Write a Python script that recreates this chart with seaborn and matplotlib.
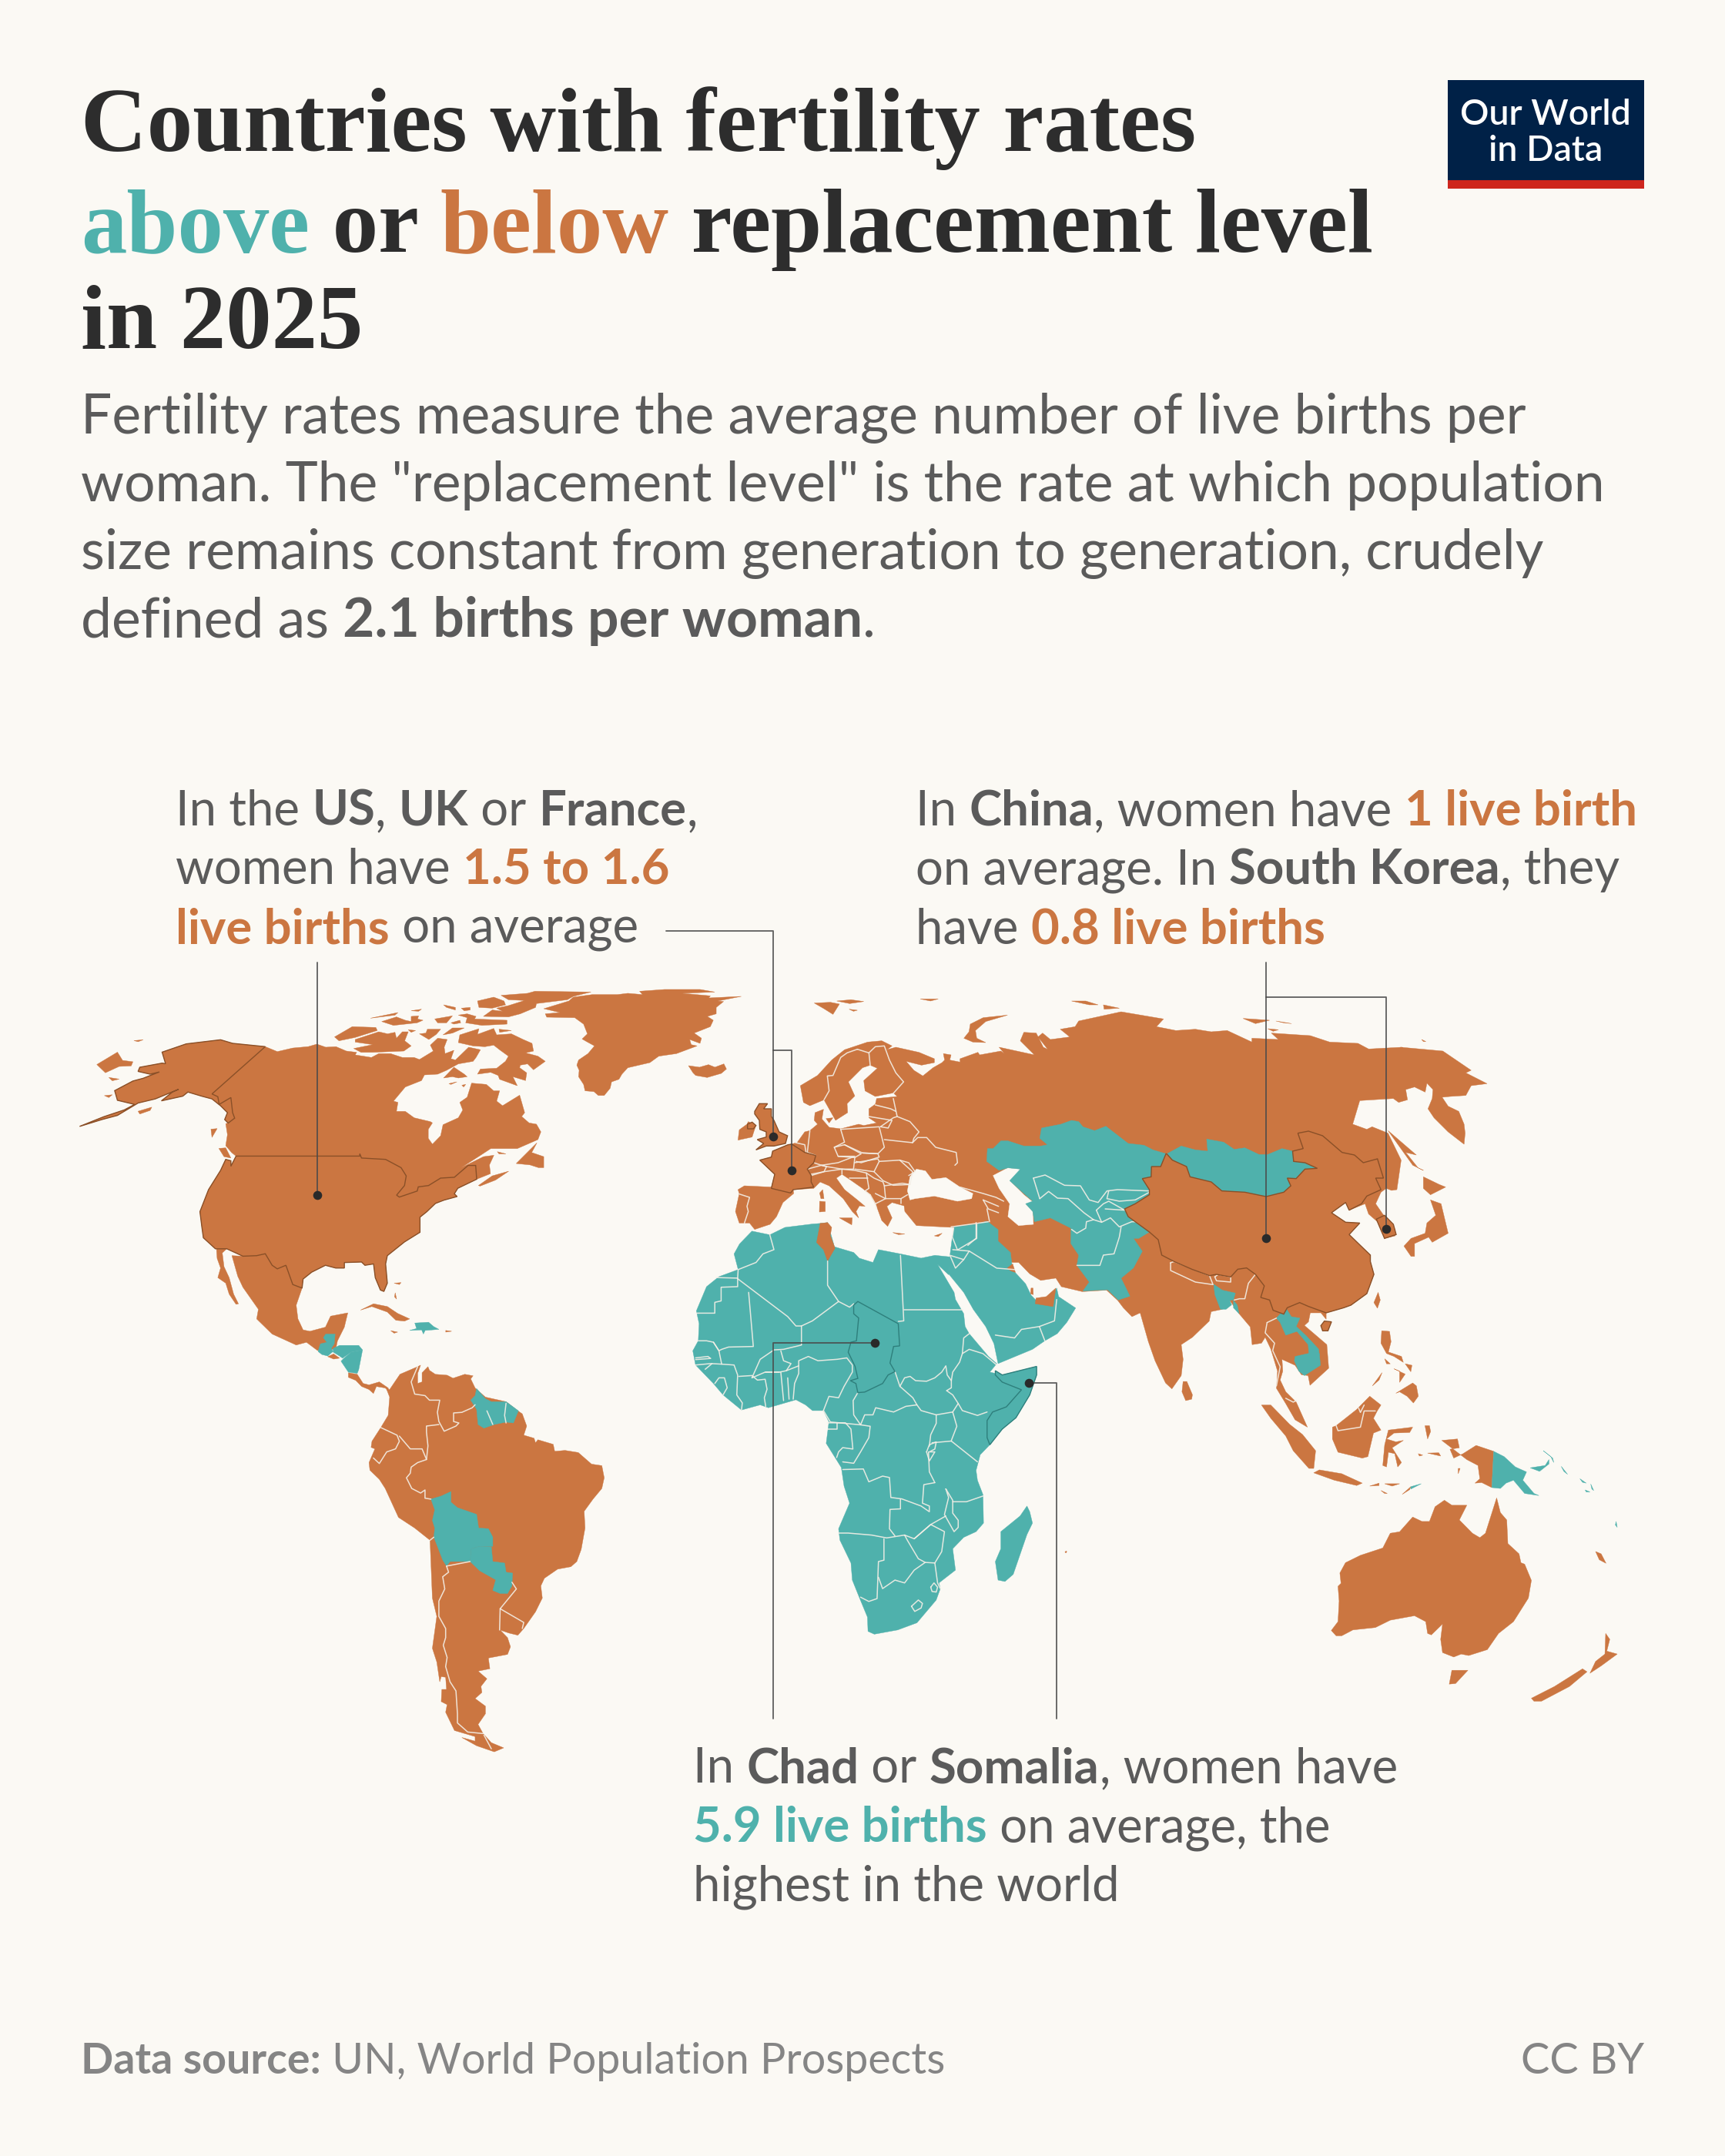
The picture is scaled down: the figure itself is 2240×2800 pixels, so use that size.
import matplotlib
matplotlib.use("Agg")
import matplotlib.pyplot as plt
import pandas as pd
import seaborn as sns

# Reference crops that the outlines were read from: origin x, origin y, x scale, y scale
CROPS = {1: (90, 1270, 2.24, 2.8), 2: (240, 1680, 2.613, 2.529), 3: (880, 1280, 3, 3), 4: (880, 1560, 2.8, 2.703),
         5: (1240, 1300, 2.178, 3), 6: (1340, 1620, 2.063, 2.613), 7: (400, 1270, 2.613, 3)}

def P(*segments):
    out = []
    for c, pts in segments:
        x0, y0, sx, sy = CROPS[c]
        out += [(x0 + a / sx, y0 + b / sy) for a, b in pts]
    return out

def many(c, lists):
    return [P((c, p)) for p in lists]

# ---------- Countries above replacement level stay in TEAL lists, below in ORANGE lists ----------
ALASKA = P((1, [(270,270),(340,240),(440,225),(475,238),(570,250),(415,422),(432,432),(436,460),(470,435),(475,490),(481,510),(462,528),(452,515),(460,490),(440,465),(415,440),(385,430),(345,415),(330,430),(268,447),(300,415),(318,405),(250,440),(200,455),(140,500),(95,515),(30,540),(100,505),(160,480),(190,460),(140,445),(132,410),(185,375),(215,365),(262,342),(235,350),(200,340),(205,325),(270,310),(280,312)]))
CANADA = P((1, [(570,250),(605,268),(650,255),(694,250)]),
           (7, [(0,268),(30,258),(60,270),(95,268),(130,285),(165,290),(160,300),(215,310),(240,295),(280,295),(320,310),(360,310),(378,318),(425,285),(415,262),(440,235),(472,240),(462,270),(465,295),(495,282),(485,315),(500,320),(545,270),(585,280),(570,310),(560,325),(510,335),(470,360),(440,375),(395,378),(385,400),(330,425),(290,480),(305,485),(300,520),(330,520),(360,545),(415,560),(422,565),(408,590),(408,625),(422,648),(450,615),(458,572),(510,545),(525,515),(515,485),(540,465),(555,410),(605,415),(630,440),(650,440),(640,480),(660,498),(718,457),(735,525),(725,540),(750,565),(775,570),(790,600),(780,630),(710,665),(620,665)]),
           (1, [(1190,650),(1140,690),(1205,650),(1235,645),(1222,680),(1225,712),(1185,732),(1182,682),(1160,682),(1120,725),(1080,728),(1045,755),(1015,760),(1012,775),(960,797),(952,790),(975,755),(980,720),(965,690),(920,660),(850,655),(845,640),(845,648),(485,648),(472,635),(455,610),(460,570),(455,530),(462,528),(481,510),(475,490),(470,435),(436,460),(432,432),(415,422)]))
US48 = P((1, [(485,648),(845,648),(845,640),(850,655),(920,660),(965,690),(980,720),(975,755),(952,790),(960,797),(1012,775),(1015,760),(1045,755),(1080,728),(1120,725),(1160,682),(1182,682),(1185,732),(1130,765),(1120,785),(1128,795),(1090,808),(1065,820),(1040,850),(1020,870),(1020,925),(975,960),(925,1010),(920,1040),(925,1110),(915,1140),(905,1135),(890,1090),(885,1040),(860,1045),(850,1033),(800,1035),(800,1055),(775,1055),(745,1045),(705,1070),(680,1095),(677,1128),(650,1115),(630,1045),(605,1058),(590,1045),(570,1003),(545,1010),(505,1012),(458,985),(425,985),(390,945),(385,900),(380,850),(405,770),(440,700),(455,660),(470,665),(470,685)]))
MEXICO = P((1, [(677,1128),(660,1190),(665,1240),(680,1280),(700,1285),(745,1270),(760,1230),(810,1218),(800,1270),(780,1320),(775,1350),(722,1355),(690,1325),(660,1335),(590,1295),(545,1240),(550,1205),(505,1125),(490,1085),(473,1010),(505,1012),(545,1010),(570,1003),(590,1045),(605,1058),(630,1045),(650,1115)]))
NA_ISLANDS = many(1, [
    [(428,985),(458,985),(445,1000),(450,1050),(465,1090),(478,1150),(492,1185),(485,1187),(465,1150),(455,1110),(432,1090),(440,1055),(430,1020)],
    [(80,315),(140,270),(155,300),(185,305),(180,320),(145,322),(105,345)],
    [(115,362),(145,368),(125,374)], [(102,428),(125,425),(115,435)], [(200,485),(240,470),(235,482),(205,495)], [(188,228),(215,225),(200,232)],
    [(435,620),(455,618),(470,655),(450,650)], [(412,550),(430,548),(415,580)],
    [(1300,675),(1360,600),(1345,635),(1380,650),(1380,690),(1365,690),(1340,680)],
    [(1190,755),(1230,720),(1278,703),(1240,735),(1195,757)], [(1245,632),(1270,640),(1250,640)],
    [(847,1208),(885,1185),(925,1195),(955,1220),(990,1240),(975,1248),(950,1245),(925,1215),(880,1195)],
    [(935,1283),(955,1288),(945,1292)], [(1095,1282),(1112,1285),(1095,1288)], [(945,1110),(965,1108),(960,1115)], [(948,1145),(952,1168),(946,1160)]])
ARCTIC = many(7, [
    [(655,68),(745,60),(770,52),(960,55),(900,72),(880,85),(775,100),(772,115),(720,140),(680,152),(595,150),(625,125),(660,130),(640,118),(680,108),(735,88),(680,85)],
    [(575,90),(630,75),(665,90),(670,105),(625,118),(580,115)],
    [(510,145),(540,140),(570,150),(565,160),(675,165),(675,180),(590,185),(535,175),(540,155)],
    [(430,160),(490,148),(470,175),(440,175)], [(485,175),(515,165),(518,175),(495,180)], [(520,118),(550,115),(550,125),(530,128)],
    [(460,105),(500,115),(500,125),(470,115)], [(350,128),(385,122),(375,130)], [(212,157),(305,135),(295,145)],
    [(250,170),(300,152),(330,165),(350,170),(350,150),(375,148),(372,160),(390,165),(370,175),(290,185)],
    [(90,230),(150,190),(230,193),(235,205),(160,232),(105,245)],
    [(160,240),(240,210),(270,218),(295,212),(300,235),(320,210),(340,210),(328,245),(350,265),(325,285),(220,290),(180,290),(155,275),(220,260),(160,250)],
    [(340,202),(365,205),(350,212)], [(378,218),(400,215),(405,200),(450,200),(435,220),(410,240)], [(458,222),(490,195),(530,195),(490,215)],
    [(515,222),(580,198),(575,220),(630,197),(640,222),(690,218),(730,240),(760,255),(765,285),(738,292),(780,305),(805,325),(765,358),(745,335),(720,340),(718,350),(742,370),(738,400),(695,385),(710,420),(650,395),(645,380),(620,368),(575,375),(585,355),(640,352),(670,325),(680,305),(650,280),(630,262),(600,268),(560,265),(510,252)],
    [(460,390),(495,348),(530,375),(540,385),(510,390),(490,385)], [(478,412),(505,405),(485,415)], [(648,200),(690,205),(650,212)], [(522,418),(535,415),(528,425)],
    [(800,120),(885,90),(900,75),(965,65),(1050,65),(1085,60),(1135,65),(1125,52),(1210,45),(1330,45),(1380,55),(1270,60),(1365,70),(1360,78),(1470,72),(1390,90),(1410,92),(1385,115),(1385,140),(1355,150),(1375,165),(1365,190),(1310,215),(1335,235),(1330,255),(1295,240),(1300,260),(1320,265),(1250,295),(1190,305),(1160,330),(1085,350),(1065,375),(1055,395),(1030,405),(1025,430),(1005,458),(985,458),(970,443),(940,440),(935,415),(918,385),(920,360),(912,340),(918,320),(950,295),(972,265),(945,248),(930,238),(948,218),(935,180),(905,155),(810,153),(805,140),(855,135)]])
SOUTH_AMERICA = P((2, [(695,315),(730,265),(790,240),(800,235),(790,262),(790,295),(805,290),(805,260),(825,240),(830,252),(850,265),(890,268),(910,278),(950,265),(978,270),(970,280),(985,310),(1020,340),(1090,355),(1130,385),(1145,395),(1160,435),(1150,465),(1185,475),(1190,490),(1198,480),(1250,495),(1255,518),(1290,515),(1335,522),(1380,560),(1415,565),(1423,605),(1415,640),(1385,675),(1355,715),(1358,770),(1345,840),(1330,880),(1310,897),(1265,905),(1220,935),(1208,960),(1213,1000),(1190,1045),(1150,1100),(1130,1122),(1100,1115),(1070,1105),(1095,1130),(1105,1160),(1095,1185),(1030,1197),(1035,1232),(995,1240),(1025,1265),(1005,1290),(1008,1310),(985,1330),(1020,1355),(1020,1380),(995,1415),(1012,1445),(1040,1475),(1082,1492),(1050,1505),(990,1485),(940,1458),(985,1470),(985,1455),(915,1435),(885,1375),(890,1350),(870,1340),(872,1300),(888,1300),(885,1260),(870,1258),(865,1275),(855,1210),(840,1165),(855,1060),(840,1000),(832,810),(780,770),(725,735),(680,640),(660,610),(628,580),(625,555),(645,510),(632,505),(635,485),(665,440),(690,400),(695,340),(685,315)]))
COSTA_PANAMA = P((2, [(555,260),(585,265),(605,295),(625,300),(660,290),(690,310),(695,325),(680,310),(650,305),(640,328),(625,315),(600,305),(580,285),(555,275)]))
EURASIA = P((3, [(235,795),(260,780),(365,785),(378,735),(320,680),(365,668),(370,645),(430,620),(465,612),(495,570),(515,565),(545,540),(532,525),(535,495),(568,482),(562,520),(590,552),(635,558),(705,540),(725,545),(775,535),(745,515),(745,480),(770,462),(775,440),(855,432),(840,418),(770,432),(730,410),(725,370),(778,322),(750,310),(720,320),(665,375),(690,430),(660,460),(662,495),(615,525),(570,445),(515,468),(490,455),(478,390),(545,350),(600,290),(650,250),(740,220),(795,215),(835,235),(815,250),(850,240),(940,260),(1000,285),(1000,300),(950,310),(890,295),(920,330),(955,352),(995,320),(1030,300),(1040,290),(1035,265),(1065,270),(1060,290),(1100,298),(1100,285)]),
            (5, [(65,200),(70,210),(130,195),(140,205),(125,180),(225,210),(185,155),(195,122),(230,125),(250,180),(295,210),(285,245),(268,248),(275,210),(235,140),(248,125),(270,150),(325,140),(298,110),(340,100),(350,78),(470,42),(590,70),(570,100),(625,115),(680,110),(725,120),(770,115),(840,160),(840,145),(915,150),(895,125),(1005,135),(1060,160),(1140,165),(1170,187),(1265,180),(1280,200),(1260,180),(1380,195),(1460,270),(1445,280),(1505,322),(1460,330),(1445,368),(1400,372),(1378,375),(1395,410),(1425,430),(1440,480),(1443,515),(1440,558),(1395,510),(1355,455),(1338,420),(1350,380),(1352,345),(1335,320),(1330,355),(1300,335),(1275,345),(1280,385),(1255,395),(1240,380),(1145,388),(1125,480),(1165,500),(1180,490),(1225,515),(1262,620),(1250,735),(1235,738),(1220,730),(1205,745),(1190,790),(1210,830),(1245,890),(1245,915),(1215,925),(1195,860),(1170,830),(1160,790),(1115,815),(1105,785),(1065,825),(1105,862),(1145,865),(1115,910),(1175,990),(1175,1015),(1185,1065),(1165,1140),(1120,1185),(1100,1195),(1050,1215),(1050,1240),(1035,1215),(1005,1215),(1000,1250)]),
            (6, [(730,265),(790,330),(795,410),(745,468),(740,435),(722,432),(705,400),(670,380),(672,420),(665,450),(680,490),(708,525),(738,610),(705,585),(680,530),(655,478),(658,420),(640,345),(625,305),(615,325),(590,330),(585,270),(555,225),(530,180),(510,210),(480,218),(475,250),(430,305),(400,330),(405,380),(400,435),(375,480),(358,460),(330,385),(312,320),(290,222),(268,235),(245,205),(230,180),(200,145),(135,150)]),
            (4, [(1395,300),(1375,270),(1320,278),(1280,255),(1240,215),(1215,215),(1150,130),(1090,85),(1000,92)]),
            (3, [(930,935),(885,880),(882,858),(835,845),(815,860),(835,905),(818,938),(795,915),(775,860),(750,815),(720,790),(670,755),(640,735),(618,750),(650,795),(700,835),(730,860),(708,858),(695,880),(705,905),(680,880),(645,830),(590,780),(555,765),(530,790),(450,795),(452,810),(410,845),(385,900),(360,930),(300,950),(280,925),(240,925),(225,880),(240,810)]))
EUROPE_ISLANDS = many(3, [
    [(630,905),(680,905),(678,932)], [(553,840),(575,842),(575,880),(552,882)], [(553,808),(565,795),(570,830),(558,830)],
    [(838,962),(885,968),(860,970)], [(1000,975),(1030,965),(1015,978)], [(578,518),(605,515),(590,535)],
    [(42,312),(85,318),(120,308),(145,318),(180,305),(190,325),(170,342),(115,358),(70,350),(60,340)],
    [(532,68),(595,65),(630,72),(605,112),(570,90)], [(620,60),(675,55),(725,62),(670,70)], [(668,92),(700,96),(685,100)],
    [(945,52),(1015,52),(985,60)],
    [(1115,205),(1135,180),(1140,150),(1190,125),(1285,115),(1200,140),(1160,175),(1165,205),(1200,222),(1150,220)],
    [(240,562),(270,540),(275,530),(305,545),(298,565),(290,590),(235,602)],
    [(1010,720),(1040,715),(1080,702),(1040,745),(1018,742)]])
ASIA_ISLANDS = many(5, [
    [(1270,955),(1290,925),(1330,905),(1335,865),(1360,835),(1345,775),(1375,790),(1395,905),(1350,940),(1340,920),(1300,945),(1300,995),(1290,995)],
    [(1325,685),(1370,715),(1388,725),(1345,755),(1325,730)], [(1225,505),(1305,600),(1275,590),(1310,650),(1325,660),(1295,640)],
    [(1185,1175),(1197,1135),(1203,1165),(1195,1197)], [(815,68),(890,75),(850,88)], [(908,78),(952,88),(930,85)], [(885,108),(915,112),(900,118)],
    [(330,0),(370,0),(405,15),(380,15)], [(420,15),(465,28),(422,32)], [(1320,150),(1332,158),(1325,158)]])
SEA_ISLANDS = many(6, [
    [(405,455),(415,455),(430,500),(428,515),(412,520),(402,490)],
    [(615,535),(640,535),(690,600),(725,635),(760,690),(755,750),(742,750),(700,690),(680,640),(640,580)],
    [(755,765),(770,755),(830,768),(885,800),(870,808),(810,790)], [(905,810),(930,800),(930,808)], [(945,802),(985,802),(965,810)], [(935,825),(952,835),(945,835)], [(992,838),(1015,812),(1012,822)],
    [(805,610),(815,605),(835,585),(870,550),(905,505),(935,535),(925,555),(915,580),(935,620),(915,630),(900,710),(885,715),(820,695),(805,650)],
    [(955,620),(1020,610),(1012,628),(970,630),(950,650),(975,660),(995,655),(965,680),(990,730),(980,745),(972,700),(955,695),(950,745),(940,740),(945,670)],
    [(937,283),(958,285),(962,320),(955,355),(990,370),(995,390),(970,370),(950,360),(935,325)],
    [(975,495),(1020,460),(1030,470),(1035,505),(1022,528),(1005,505),(985,490)], [(1000,395),(1018,400),(1015,422)], [(970,412),(985,420),(985,458),(1000,430)], [(945,378),(960,395),(950,395)], [(912,470),(938,425),(930,450)],
    [(1053,605),(1065,605),(1068,625),(1060,650)], [(1035,700),(1047,705),(1038,708)], [(1060,698),(1090,697),(1095,708)],
    [(1098,655),(1140,650),(1145,680),(1120,685),(1130,715),(1155,700),(1190,672),(1237,692),(1232,815),(1205,798),(1187,800),(1200,785),(1195,740),(1165,720)],
    [(1142,750),(1147,750),(1142,768)],
    [(825,1105),(840,1070),(880,1045),(940,1020),(960,970),(985,965),(1020,915),(1045,930),(1065,930),(1080,880),(1105,858),(1125,875),(1165,875),(1145,925),(1180,970),(1200,985),(1215,970),(1245,850),(1255,900),(1272,925),(1275,1005),(1305,1040),(1310,1070),(1320,1075),(1338,1130),(1330,1190),(1290,1270),(1250,1310),(1220,1365),(1170,1385),(1150,1380),(1130,1390),(1100,1375),(1095,1330),(1100,1278),(1070,1315),(1060,1310),(1055,1270),(1025,1250),(960,1265),(920,1290),(860,1298),(830,1318),(815,1318),(802,1300),(820,1270),(823,1200),(820,1150),(828,1140)],
    [(1125,1435),(1168,1435),(1135,1480),(1118,1482)],
    [(1338,1530),(1400,1490),(1475,1430),(1487,1440),(1440,1490),(1365,1540),(1345,1540)],
    [(1537,1310),(1548,1330),(1540,1370),(1568,1380),(1525,1420),(1495,1445),(1510,1405),(1535,1380)],
    [(1510,1032),(1525,1040),(1538,1072),(1520,1060)], [(90,1032),(94,1032),(90,1036)]])
ORANGE = [ALASKA, CANADA, US48, MEXICO, SOUTH_AMERICA, COSTA_PANAMA, EURASIA] + NA_ISLANDS + ARCTIC + EUROPE_ISLANDS + ASIA_ISLANDS + SEA_ISLANDS

SEAS = many(3, [[(895,800),(905,745),(930,715),(965,722),(990,755),(1045,748),(1100,785),(1150,810),(1145,830),(1090,840),(1000,820),(925,830),(905,835)]]) + \
       many(5, [[(108,680),(150,650),(185,655),(182,680),(155,700),(195,755),(222,785),(200,790),(220,820),(222,870),(180,875),(150,840),(155,790),(125,730)]]) + \
       many(7, [[(622,315),(645,300),(650,310),(628,320)]])

AFRICA = P((4, [(270,105),(335,118),(390,92),(490,80),(518,78),(545,75),(570,160),(640,180),(660,200),(710,215),(730,170),(810,185),(885,200),(935,190),(985,195),(992,195),(985,258),(945,222),(1005,320),(1010,345),(1040,395),(1045,440),(1060,465),(1130,545),(1160,570),(1135,600),(1180,610),(1305,580),(1305,610),(1280,680),(1230,760),(1180,800),(1135,855),(1100,890),(1085,945),(1090,980),(1110,1030),(1112,1130),(1085,1160),(1040,1180),(1000,1220),(1010,1295),(950,1340),(955,1360),(940,1400),(870,1480),(800,1505),(715,1520),(692,1510),(690,1460),(660,1390),(635,1330),(630,1270),(590,1190),(585,1150),(625,1060),(605,1000),(595,935),(540,850),(550,775),(530,735),(490,735),(465,715),(430,697),(330,725),(300,715),(232,733),(165,680),(130,640),(65,575),(55,525),(75,490),(78,430),(68,385),(105,300),(150,265),(220,240),(205,185),(225,150)]))
MIDDLE_EAST = P((4, [(985,255),(990,190),(998,130),(1005,90),(1090,80),(1125,70),(1165,100),(1165,140),(1210,180),(1215,220),(1225,248),(1265,290),(1285,330),(1300,345),(1340,365),(1378,305),(1385,335),(1447,375),(1415,425),(1380,465),(1335,490),(1290,520),(1165,570),(1150,500),(1120,440),(1075,380),(1040,320)]))
MADAGASCAR = P((4, [(1270,1070),(1280,1090),(1290,1130),(1270,1170),(1220,1310),(1190,1335),(1165,1330),(1155,1265),(1175,1220),(1175,1160),(1245,1105)]))
CENTRAL_ASIA = P((5, [(108,575),(130,545),(150,545),(195,565),(243,565),(262,560),(240,535),(245,495),(300,480),(330,465),(350,470),(362,490),(395,505),(427,488),(490,555),(535,562),(560,580),(597,595),(582,645),(556,645),(555,685),(530,692),(550,735),(550,755),(510,790),(480,810),(490,840),(510,860),(550,900),(520,925),(505,925),(530,975),(505,1040),(470,1080),(495,1150),(462,1165),(432,1125),(362,1130),(380,1095),(345,1030),(350,990),(328,945),(328,885),(270,845),(225,860),(220,820),(200,790),(220,780),(195,750),(155,700),(185,655),(150,650),(125,660),(90,625),(92,575)]))
MONGOLIA = P((5, [(600,595),(640,565),(680,580),(715,585),(712,538),(760,550),(790,578),(820,572),(860,598),(885,598),(925,575),(955,585),(958,625),(990,630),(1025,652),(990,655),(965,692),(940,690),(950,720),(930,745),(880,762),(820,745),(755,740),(725,705),(665,685),(655,645),(615,620)]))
TEAL_AMERICAS = many(2, [
    [(478,133),(510,133),(507,165),(497,180),(503,190),(485,205),(465,200),(452,190),(460,165),(482,160),(470,145)],
    [(503,180),(525,170),(590,170),(603,185),(565,192),(535,212),(525,205),(503,192)],
    [(603,185),(590,250),(585,262),(555,258),(530,222),(540,212),(565,192)],
    [(990,312),(1020,345),(1040,355),(1090,355),(1132,385),(1115,425),(1090,422),(1050,430),(1015,442),(995,430),(990,380),(970,350),(985,335)],
    [(835,675),(870,665),(903,650),(903,685),(925,703),(990,725),(997,770),(1030,772),(1045,800),(1045,830),(1000,830),(972,838),(968,880),(900,880),(888,895),(875,875),(845,800),(848,770),(840,745),(848,710)],
    [(972,838),(1000,830),(1040,832),(1045,880),(1085,885),(1090,915),(1112,918),(1110,960),(1095,985),(1070,985),(1045,975),(1055,940),(1000,910),(968,880)]])
HISPANIOLA = P((1, [(990,1282),(1010,1275),(1005,1255),(1045,1252),(1060,1268),(1075,1278),(1035,1282),(1030,1295),(1025,1280)]))
TEAL_ASIA = many(6, [
    [(487,125),(510,145),(545,155),(540,178),(530,180),(535,195),(520,210),(505,210),(490,160)],
    [(540,180),(550,195),(555,225),(540,205)],
    [(680,205),(695,235),(718,240),(708,268),(735,300),(768,345),(770,365),(742,362),(740,330),(710,285),(680,298),(665,255),(655,240)],
    [(705,370),(740,360),(770,360),(773,400),(730,435),(715,420),(703,385)],
    [(1015,812),(1043,802),(1015,820)],
    [(1237,692),(1265,710),(1295,745),(1325,762),(1315,790),(1345,835),(1358,842),(1320,835),(1290,790),(1270,800),(1255,818),(1232,815)],
    [(1335,748),(1375,740),(1385,720),(1385,735),(1360,760)], [(1370,690),(1395,715),(1398,730),(1390,710)],
    [(1418,743),(1435,770),(1425,760)], [(1468,785),(1485,800),(1475,797)], [(1497,803),(1505,825),(1500,820)], [(1482,823),(1495,830),(1485,830)], [(1565,930),(1568,950),(1563,942)]])
TEAL = [AFRICA, MIDDLE_EAST, MADAGASCAR, CENTRAL_ASIA, MONGOLIA, HISPANIOLA] + TEAL_AMERICAS + TEAL_ASIA

ORANGE_TOP = many(4, [
    [(518,78),(545,75),(560,92),(555,120),(572,165),(545,210),(530,170),(505,145)],
    [(1198,235),(1218,220),(1228,250),(1212,245)], [(1303,340),(1340,335),(1375,305),(1365,370),(1300,360)],
    [(1285,305),(1292,305),(1293,328),(1283,325)], [(1408,1232),(1413,1228),(1413,1234)]]) + \
    many(2, [[(485,207),(505,198),(525,212),(505,215)]])

BORDERS = many(2, [
    [(790,240),(768,290),(780,330),(815,335),(830,350),(865,350),(857,390),(862,420),(880,452),(920,435),(930,425),(912,420),(912,392),(940,390),(975,375),(985,365)],
    [(862,430),(820,435),(820,455),(825,500),(820,545)], [(665,440),(720,465),(728,485),(715,510),(685,520),(660,558),(640,540)],
    [(728,468),(765,510),(805,510),(818,540),(820,545),(790,555),(768,570),(765,590),(752,605),(770,640),(800,655),(815,645),(815,672),(835,675)],
    [(832,810),(845,800)], [(888,895),(895,915),(875,930),(882,970),(862,1010),(862,1060),(885,1100),(885,1130),(877,1155),(890,1195),(885,1225),(900,1275),(920,1305),(925,1380),(925,1410),(960,1440),(1012,1445)],
    [(1070,1035),(1150,1080),(1145,1100)], [(1070,1035),(1068,1105)], [(1070,1035),(1125,970),(1110,948)], [(1025,385),(1045,430)], [(1090,360),(1085,400),(1090,425)],
    [(968,880),(888,895)], [(1015,1450),(1040,1495)]]) + many(4, [
    [(335,118),(350,170),(310,185),(285,215),(220,240),(218,270),(140,268)], [(218,270),(218,300),(158,302),(158,350),(135,355),(135,393),(68,393)],
    [(258,320),(275,510),(185,512),(160,520),(150,525),(130,495),(105,490),(75,490)], [(218,272),(400,405),(430,438),(450,438),(490,420),(585,352),(625,372),(640,360)],
    [(450,438),(450,505),(385,520),(350,522),(300,555),(270,620)], [(545,210),(545,295),(585,352)], [(810,190),(820,380),(822,420),(802,422)], [(822,380),(1035,380)],
    [(790,598),(808,650),(825,620),(845,615),(865,630),(905,632),(935,620),(960,600),(975,578),(980,610),(995,630),(995,655),(978,665)],
    [(1060,465),(1040,480),(1035,535),(1060,520),(1110,535),(1160,575)], [(1035,535),(1025,565),(1000,600),(995,630)],
    [(978,665),(1000,680),(1020,710),(1000,740),(940,750),(885,735),(870,715),(830,720),(785,740),(720,725),(710,750),(680,750),(665,785),(640,750),(638,700),(655,672)],
    [(808,650),(855,690),(870,715)], [(1020,710),(1035,735),(1090,752),(1125,740)], [(1000,740),(1015,790),(995,840)], [(995,842),(1090,915)],
    [(940,750),(940,780),(920,820),(915,860)], [(995,842),(925,848)], [(905,880),(915,855),(940,845),(935,870),(915,880),(935,880),(915,912),(905,880)], [(912,880),(915,950),(935,988)],
    [(935,988),(895,995),(890,1060),(915,1070),(915,1090),(885,1070),(815,1045),(775,1040),(770,970),(745,965),(695,985),(675,940),(600,942)],
    [(810,1045),(810,1080),(772,1082),(770,1150),(790,1175)], [(585,1165),(620,1165),(705,1172),(760,1182),(825,1172)],
    [(825,1172),(860,1185),(920,1135),(975,1105)], [(975,1010),(1000,1050),(1000,1095),(1020,1120),(1020,1145),(1005,1160),(970,1100),(985,1040),(975,1010)], [(1000,1055),(1050,1055),(1110,1035)],
    [(750,1185),(750,1260),(730,1265),(725,1395),(695,1405),(665,1390)], [(730,1320),(745,1360),(790,1330),(825,1340),(860,1295),(900,1268),(875,1255),(835,1190),(825,1172)],
    [(860,1185),(920,1135),(970,1160),(960,1230),(935,1270),(900,1268)], [(935,1270),(945,1340),(955,1360)],
    [(920,1355),(932,1340),(945,1355),(940,1372),(925,1370),(920,1355)], [(850,1422),(875,1400),(890,1412),(885,1428),(862,1440),(850,1422)],
    [(65,550),(110,545),(120,552),(65,556)], [(65,575),(120,570),(160,572),(205,575),(218,610),(215,680),(235,708),(232,733)], [(130,495),(150,525),(160,572)], [(100,590),(125,570)], [(135,640),(150,620),(170,620),(180,655),(165,680)],
    [(222,615),(270,612),(290,628),(318,625),(325,660),(315,690),(320,720)], [(318,600),(370,600)], [(375,600),(385,700)], [(400,620),(405,695)],
    [(420,695),(425,640),(440,605),(440,560),(475,545),(510,560),(580,555),(615,550),(635,575),(635,600),(605,650),(585,690),(550,685),(530,735)],
    [(270,620),(318,600),(370,600),(395,595),(412,570),(385,560),(375,525)], [(395,595),(440,578)], [(530,735),(555,775),(665,785)],
    [(545,778),(610,778),(630,800),(637,870),(600,865),(585,880),(578,900)], [(545,800),(580,800),(580,778)], [(665,785),(700,790),(695,830),(665,880),(640,920),(600,915)],
    [(1155,470),(1225,480),(1250,450),(1315,440),(1370,420),(1378,345)], [(1315,440),(1335,490)], [(1000,170),(1060,175),(1160,235),(1225,240)], [(1055,155),(1085,130),(1085,75)], [(1060,175),(1040,205),(1010,235),(990,190),(1040,205)]]) + many(3, [
    [(240,812),(280,825),(270,860),(275,880),(260,925)], [(460,612),(495,620),(500,650)], [(515,565),(505,650),(538,662)],
    [(635,560),(650,610),(610,630),(625,665),(690,665),(625,690),(560,700),(530,690)], [(635,560),(785,550),(805,630),(780,655),(720,652),(650,620)],
    [(610,630),(650,620),(715,655),(690,670),(625,665)], [(690,670),(685,715),(640,715),(580,705),(560,700)], [(720,652),(780,655),(785,668),(715,690),(695,685)],
    [(690,690),(780,675),(785,685),(765,725),(690,715)], [(785,685),(865,680),(915,725),(905,775),(840,778),(800,760),(765,725)],
    [(805,600),(915,612),(935,592),(970,592),(1005,630),(1085,650),(1090,690),(1080,700)], [(790,550),(840,515),(855,510),(905,530),(940,570),(920,595),(915,612)],
    [(745,510),(835,525),(820,555),(790,550)], [(770,465),(830,480),(850,490)], [(840,440),(855,510)],
    [(700,248),(745,262),(770,238),(805,235),(825,290),(850,340),(880,375),(840,420)], [(700,248),(660,262),(635,280),(605,350),(583,352),(590,410),(570,445)], [(745,262),(750,310)],
    [(865,680),(900,690),(925,725),(900,740)], [(505,715),(560,700),(580,705),(570,725),(520,735)], [(520,740),(570,725),(640,715),(640,735)],
    [(640,715),(690,720),(735,730),(765,750),(800,765),(805,780),(875,770),(905,775)], [(735,730),(745,790),(730,800),(750,815)], [(670,750),(740,750)],
    [(805,780),(810,830),(870,830),(895,815)], [(770,810),(810,830),(770,850)], [(750,815),(770,850),(775,870)], [(870,830),(870,850)],
    [(1100,785),(1190,810),(1240,825),(1270,840)], [(1190,835),(1210,870),(1250,885)], [(1190,835),(1250,860)], [(1205,870),(1215,920)], [(1065,940),(1175,925),(1210,920)], [(1165,930),(1165,985),(1090,1030),(1070,980),(1075,945)]]) + many(5, [
    [(222,690),(255,678),(310,718),(355,720),(380,775),(405,785),(430,740),(460,735),(550,740)], [(240,770),(222,690)], [(240,770),(265,742),(290,768),(320,770),(365,825),(392,852)],
    [(330,890),(345,905),(370,885),(372,860),(392,852),(415,862),(440,845),(465,880),(500,860),(535,860)], [(345,1030),(410,1030),(420,990),(450,985),(465,920),(470,880)],
    [(400,815),(420,790),(435,780),(480,815),(425,810)], [(415,862),(400,815)], [(435,740),(430,770),(465,780),(510,775),(550,745)],
    [(610,1020),(620,1015),(720,1070),(730,1105),(680,1095),(610,1050),(610,1020)], [(735,1075),(745,1065),(780,1075),(780,1095),(740,1090),(735,1075)], [(850,1065),(830,1100),(820,1160),(805,1160),(790,1165)]]) + many(6, [
    [(630,255),(625,290),(650,325),(645,350),(665,405),(655,470)], [(680,512),(700,525),(708,520)], [(630,255),(655,240)], [(815,605),(820,622),(880,610),(890,555),(920,555)], [(875,545),(880,560),(890,535)]])

CHINA = P((5, [(600,597),(615,620),(655,645),(665,685),(725,705),(755,740),(820,745),(880,762),(930,745),(950,720),(940,690),(965,692),(990,655),(1025,652),(990,630),(958,625),(955,585),(985,575),(970,515),(1000,507),(1040,525),(1095,590),(1130,600),(1155,630),(1195,615),(1212,690),(1190,690),(1205,735),(1165,760),(1150,790),(1115,815),(1105,785),(1065,825),(1105,862),(1145,865),(1115,910),(1175,990),(1175,1015),(1185,1065),(1165,1140),(1120,1185),(1100,1195),(1050,1215),(1000,1190),(975,1175),(940,1195),(930,1220),(900,1205),(890,1165),(865,1155),(875,1110),(850,1065),(825,1040),(800,1045),(780,1075),(740,1065),(720,1070),(670,1045),(620,1015),(585,990),(575,930),(550,900),(510,860),(490,840),(480,810),(510,790),(550,755),(550,735),(530,692),(555,685),(556,645),(582,645),(597,595)]))
HAINAN = P((5, [(1035,1265),(1045,1247),(1065,1250),(1055,1285),(1040,1285)]))
SOUTH_KOREA = P((5, [(1192,850),(1215,835),(1240,870),(1248,910),(1215,925),(1195,860)]))
UK = P((3, [(300,490),(318,460),(350,460),(335,480),(365,480),(365,510),(375,525),(395,570),(428,585),(420,615),(375,625),(345,625),(305,640),(335,615),(310,600),(345,590),(345,570),(320,560),(318,525),(300,500)]))
N_IRELAND = P((3, [(272,540),(290,532),(305,545),(295,558),(272,558)]))
FRANCE = P((3, [(320,680),(365,668),(370,645),(430,620),(445,618),(495,650),(538,662),(530,690),(505,715),(520,740),(520,765),(530,785),(450,795),(440,808),(365,790),(378,735)]))
CHAD = P((4, [(640,365),(655,352),(802,430),(807,508),(785,510),(772,568),(790,598),(765,610),(745,640),(680,670),(655,672),(648,640),(628,630),(655,622),(645,580),(620,530),(630,495),(650,490),(658,410),(640,395)]))
SOMALIA = P((4, [(1155,595),(1180,610),(1305,580),(1305,610),(1280,680),(1230,760),(1180,800),(1135,855),(1125,830),(1125,770),(1145,740),(1195,722),(1250,662),(1180,635),(1155,610)]))
HIGHLIGHT_LOW = [US48, ALASKA, CHINA, HAINAN, SOUTH_KOREA, UK, N_IRELAND, FRANCE]
HIGHLIGHT_HIGH = [CHAD, SOMALIA]

# Marked countries
DOT_NAMES = ["US", "UK", "France", "China", "South Korea", "Chad", "Somalia"]
DOT_X = [412, 1004, 1028, 1644, 1800, 1136, 1336]
DOT_Y = [1552, 1476, 1520, 1608, 1596, 1744, 1796]

# Text
TITLE = [[("Countries with fertility rates", "dark")],
         [("above", "teal"), (" or ", "dark"), ("below", "orange"), (" replacement level", "dark")],
         [("in 2025", "dark")]]
SUBTITLE = [[("Fertility rates measure the average number of live births per", "n")],
            [("woman. The \"replacement level\" is the rate at which population", "n")],
            [("size remains constant from generation to generation, crudely", "n")],
            [("defined as ", "n"), ("2.1 births per woman", "b"), (".", "n")]]
NOTE_US = [[("In the ", "n"), ("US", "b"), (", ", "n"), ("UK", "b"), (" or ", "n"), ("France", "b"), (",", "n")],
           [("women have ", "n"), ("1.5 to 1.6", "o")], [("live births", "o"), (" on average", "n")]]
NOTE_CN = [[("In ", "n"), ("China", "b"), (", women have ", "n"), ("1 live birth", "o")],
           [("on average. In ", "n"), ("South Korea", "b"), (", they", "n")], [("have ", "n"), ("0.8 live births", "o")]]
NOTE_TD = [[("In ", "n"), ("Chad", "b"), (" or ", "n"), ("Somalia", "b"), (", women have", "n")],
           [("5.9 live births", "t"), (" on average, the", "n")], [("highest in the world", "n")]]
FOOTER = [("Data source:", "gb"), (" UN, World Population Prospects", "g")]

BG, C_ORANGE, C_TEAL = "#FBF9F4", "#CB7641", "#4FB1AC"
C_TITLE, C_TEXT, C_GREY = "#2D2D2D", "#5B5B5B", "#858585"

sns.set_theme(style="white", rc={"figure.facecolor": BG, "axes.facecolor": BG})
plt.rcParams["font.family"] = ["Lato", "DejaVu Sans"]

fig = plt.figure(figsize=(22.4, 28), dpi=100)
ax = fig.add_axes([0, 0, 1, 1])

def fill(poly, color, z, **kw):
    ax.fill([p[0] for p in poly], [p[1] for p in poly], color=color, zorder=z, lw=kw.pop("lw", 0.3), **kw)

def line(pts, color, lw, z, **kw):
    ax.plot([p[0] for p in pts], [p[1] for p in pts], color=color, lw=lw, zorder=z, solid_joinstyle="round", **kw)

for poly in ORANGE: fill(poly, C_ORANGE, 2)
for poly in SEAS: fill(poly, BG, 3)
for poly in TEAL: fill(poly, C_TEAL, 4)
for poly in ORANGE_TOP: fill(poly, C_ORANGE, 5)
for b in BORDERS: line(b, "#F4EFE6", 1.1, 6, alpha=0.9)
for poly in HIGHLIGHT_LOW:
    ax.fill([p[0] for p in poly], [p[1] for p in poly], facecolor=C_ORANGE, edgecolor="#8A5028", lw=1.0, zorder=7)
for poly in HIGHLIGHT_HIGH:
    ax.fill([p[0] for p in poly], [p[1] for p in poly], facecolor=C_TEAL, edgecolor="#2E7F7C", lw=1.0, zorder=7)

# Leader lines
LEADERS = [[(412, 1250), (412, 1552)], [(865, 1209), (1004, 1209), (1004, 1476)], [(1004, 1364), (1028, 1364), (1028, 1520)],
           [(1644, 1250), (1644, 1608)], [(1644, 1295), (1800, 1295), (1800, 1596)],
           [(1136, 1744), (1004, 1744), (1004, 2232)], [(1336, 1796), (1372, 1796), (1372, 2232)]]
for l in LEADERS: line(l, "#4A4A4A", 1.35, 8, alpha=0.85)
dots = pd.DataFrame({"name": DOT_NAMES, "x": DOT_X, "y": DOT_Y})
sns.scatterplot(data=dots, x="x", y="y", ax=ax, color="#2A2A2A", s=70, linewidth=0, zorder=9, legend=False)
ax.set_xlim(0, 2240); ax.set_ylim(2800, 0); ax.axis("off")

fig.canvas.draw()
rend = fig.canvas.get_renderer()

def width(s, **kw):
    a = ax.text(0, 0, s + "|", **kw); b = ax.text(0, 0, "|", **kw)
    w = a.get_window_extent(rend).width - b.get_window_extent(rend).width
    a.remove(); b.remove()
    return w

STYLES = {"n": dict(color=C_TEXT), "b": dict(color=C_TEXT, fontweight="bold"), "o": dict(color=C_ORANGE, fontweight="bold"),
          "t": dict(color=C_TEAL, fontweight="bold"), "dark": dict(color=C_TITLE), "teal": dict(color=C_TEAL), "orange": dict(color=C_ORANGE),
          "g": dict(color=C_GREY), "gb": dict(color=C_GREY, fontweight="bold")}

def runs(x, y, parts, **base):
    for s, k in parts:
        kw = {**base, **STYLES[k]}
        ax.text(x, y, s, va="baseline", ha="left", zorder=12, **kw)
        x += width(s, **kw)

TITLE_FONT = dict(family=["Liberation Serif"], fontweight="bold", fontsize=85.5)
for y, l in zip([196, 327, 452], TITLE): runs(105, y, l, **TITLE_FONT)
for y, l in zip([563, 651, 739, 827], SUBTITLE): runs(105, y, l, fontsize=51.4)
for y, l in zip([1072, 1148, 1225], NOTE_US): runs(228, y, l, fontsize=45.7)
for y, l in zip([1072, 1148, 1225], NOTE_CN): runs(1189, y, l, fontsize=45.7)
for y, l in zip([2315, 2392, 2468], NOTE_TD): runs(900, y, l, fontsize=45.7)
runs(105, 2693, FOOTER, fontsize=40)
ax.text(2135, 2693, "CC BY", fontsize=40.3, color=C_GREY, va="baseline", ha="right", zorder=12)

# Logo
ax.fill([1880, 2135, 2135, 1880], [104, 104, 234, 234], color="#002147", lw=0, zorder=10)
ax.fill([1880, 2135, 2135, 1880], [234, 234, 245, 245], color="#CE261E", lw=0, zorder=10)
ax.text(2007, 162, "Our World", color="white", fontsize=33.5, fontweight="semibold", ha="center", va="baseline", zorder=12)
ax.text(2007, 209, "in Data", color="white", fontsize=33.5, fontweight="semibold", ha="center", va="baseline", zorder=12)

fig.savefig("out.png", dpi=100, facecolor=BG)
